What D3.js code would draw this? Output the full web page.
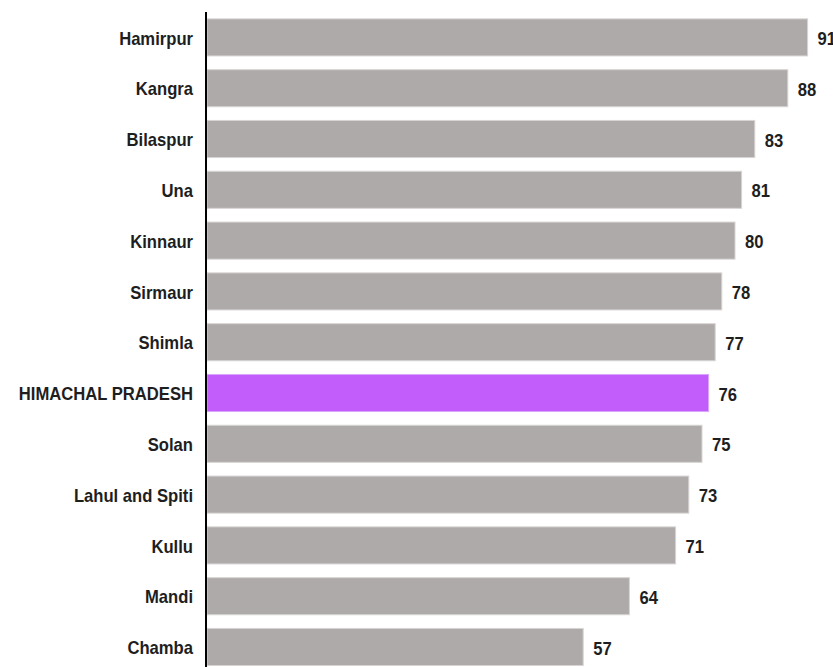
<!DOCTYPE html>
<html>
<head>
<meta charset="utf-8">
<script src="https://cdn.jsdelivr.net/npm/d3@7"></script>
<style>
  html, body { margin: 0; padding: 0; background: #fff; }
  svg { display: block; }
  text { font-family: "Liberation Sans", Arial, sans-serif; font-weight: bold; fill: #1e1e1e; }
</style>
</head>
<body>
<script>
const categories = ["Hamirpur", "Kangra", "Bilaspur", "Una", "Kinnaur", "Sirmaur", "Shimla",
  "HIMACHAL PRADESH", "Solan", "Lahul and Spiti", "Kullu", "Mandi", "Chamba"];
const values = [91, 88, 83, 81, 80, 78, 77, 76, 75, 73, 71, 64, 57];
const highlight = ["HIMACHAL PRADESH"];

const W = 833, H = 667;
const SX = 0.875;   // horizontal condensing of the text
const svg = d3.select("body").append("svg").attr("width", W).attr("height", H);

const x = d3.scaleLinear().domain([0, 100]).range([207, 867]);
const y = d3.scaleBand().domain(categories).range([12, 672.4]).paddingInner(0.27).paddingOuter(0.135);

const data = categories.map((c, i) => ({ c, v: values[i] }));

svg.selectAll("rect.bar").data(data).join("rect")
  .attr("class", "bar")
  .attr("x", x(0))
  .attr("y", d => y(d.c))
  .attr("width", d => x(d.v) - x(0))
  .attr("height", y.bandwidth())
  .attr("fill", d => highlight.includes(d.c) ? "#c25cfb" : "#aeaaa9")
  .attr("stroke", d => highlight.includes(d.c) ? "#d9a6fb" : "#d8d5d4")
  .attr("stroke-width", 1);

svg.selectAll("text.val").data(data).join("text")
  .attr("class", "val")
  .attr("transform", d => `translate(${x(d.v) + 10},${y(d.c) + y.bandwidth() / 2 + 1}) scale(${SX},1)`)
  .attr("dy", "0.35em")
  .style("font-size", "19px")
  .text(d => d.v);

const yAxis = d3.axisLeft(y).tickSize(0).tickPadding(13);
const gy = svg.append("g").attr("transform", `translate(${x(0) - 1},0)`).call(yAxis);
gy.select(".domain").remove();
gy.selectAll("text")
  .style("font-size", "19px")
  .attr("fill", "#1e1e1e")
  .attr("x", -13 / SX)
  .attr("transform", `scale(${SX},1)`)
  .attr("dy", "0.38em");
gy.attr("font-family", null).attr("font-size", null);

svg.append("line")
  .attr("x1", x(0) - 1).attr("x2", x(0) - 1)
  .attr("y1", 12).attr("y2", H)
  .attr("stroke", "#000").attr("stroke-width", 2);
</script>
</body>
</html>
